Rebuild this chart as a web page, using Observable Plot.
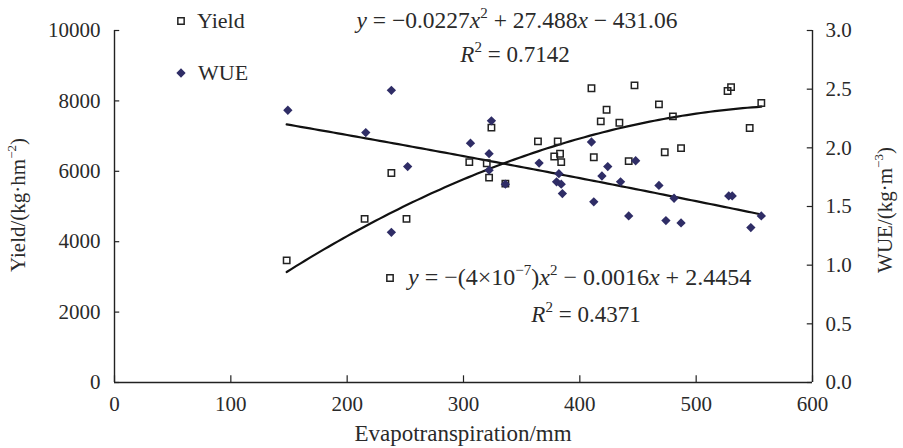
<!DOCTYPE html>
<html><head><meta charset="utf-8">
<script src="https://cdn.jsdelivr.net/npm/d3@7"></script>
<script src="https://cdn.jsdelivr.net/npm/@observablehq/plot@0.6"></script>
<style>body{margin:0;background:#fff} svg{display:block}</style>
</head><body><div id="chart"></div>
<script>
// ---- data ----
const yieldET  = [148, 215, 238, 251, 305, 320, 322, 324, 336, 364, 378, 381, 383, 384, 410, 412, 418, 423, 434, 442, 447, 468, 473, 480, 487, 527, 530, 546, 556];
const yieldVal = [3470, 4650, 5950, 4650, 6260, 6230, 5820, 7240, 5650, 6850, 6420, 6850, 6500, 6260, 8360, 6400, 7420, 7750, 7380, 6290, 8440, 7900, 6540, 7560, 6660, 8280, 8390, 7230, 7940];
const wueET  = [149, 216, 238, 238, 252, 306, 322, 322, 324, 336, 365, 380, 382, 384, 385, 410, 412, 419, 424, 435, 442, 448, 468, 474, 481, 487, 528, 531, 547, 556];
const wueVal = [2.32, 2.13, 2.49, 1.28, 1.84, 2.04, 1.95, 1.81, 2.23, 1.69, 1.87, 1.71, 1.78, 1.69, 1.61, 2.05, 1.54, 1.76, 1.84, 1.71, 1.42, 1.89, 1.68, 1.38, 1.57, 1.36, 1.59, 1.59, 1.32, 1.42];
const xTicks = [0, 100, 200, 300, 400, 500, 600];
const yieldTicks = [0, 2000, 4000, 6000, 8000, 10000];
const wueTicks = [0, 0.5, 1.0, 1.5, 2.0, 2.5, 3.0];
// fitted quadratic trend lines as printed on the chart: [a, b, c]
const yieldFit = [-0.0227, 27.488, -431.06];
const wueFit = [-4e-7, -0.0016, 2.4454];
const fitRange = [148, 556];

const K = 10000 / 3; // right axis (WUE 0–3) mapped onto left axis (Yield 0–10000)
const quad = (c, x) => c[0] * x * x + c[1] * x + c[2];
const fitX = d3.range(fitRange[0], fitRange[1] + 0.1, 4);
const yieldCurve = fitX.map(x => ({x, y: quad(yieldFit, x)}));
const wueCurve = fitX.map(x => ({x, y: quad(wueFit, x) * K}));
const yieldPts = yieldET.map((x, i) => ({x, y: yieldVal[i]}));
const wuePts = wueET.map((x, i) => ({x, y: wueVal[i] * K}));

const FONT = "Liberation Serif";
const FS = 21;
const axisColor = "#222";
const navy = "#2f2d66";

const chart = Plot.plot({
  width: 903, height: 448,
  marginLeft: 114, marginRight: 91, marginTop: 30, marginBottom: 66,
  style: {fontFamily: FONT, fontSize: FS + "px", color: "#2a2a2a", background: "#fff"},
  x: {domain: [0, 600]},
  y: {domain: [0, 10000]},
  marks: [
    Plot.ruleX([0, 600], {stroke: axisColor, strokeWidth: 1.4}),
    Plot.ruleY([0], {stroke: axisColor, strokeWidth: 1.4}),
    Plot.ruleX(xTicks, {x: d => d, y1: 0, y2: 190, stroke: axisColor, strokeWidth: 1.2}),
    Plot.ruleY(yieldTicks, {y: d => d, x1: 0, x2: 4.5, stroke: axisColor, strokeWidth: 1.2}),
    Plot.ruleY(wueTicks, {y: d => d * K, x1: 595.5, x2: 600, stroke: axisColor, strokeWidth: 1.2}),
    Plot.axisX(xTicks, {tickSize: 0, tickPadding: 14, label: null, fontSize: FS}),
    Plot.axisY(yieldTicks, {anchor: "left", tickSize: 0, tickPadding: 14, label: null, tickFormat: d3.format("d"), fontSize: FS}),
    Plot.axisY(wueTicks.map(d => d * K), {anchor: "right", tickSize: 0, tickPadding: 13, label: null, tickFormat: d => (d / K).toFixed(1), fontSize: FS}),
    Plot.line(yieldCurve, {x: "x", y: "y", stroke: "#111", strokeWidth: 2.2}),
    Plot.line(wueCurve, {x: "x", y: "y", stroke: "#111", strokeWidth: 2.2}),
    Plot.dot(yieldPts, {x: "x", y: "y", symbol: "square", r: 3.6, fill: "none", stroke: "#222", strokeWidth: 1.5}),
    Plot.dot(wuePts, {x: "x", y: "y", symbol: "diamond2", r: 4.2, fill: navy, stroke: "none"})
  ]
});
document.getElementById("chart").appendChild(chart);

// ---- annotations: titles, legend, equations ----
const svg = d3.select(chart);
const g = svg.append("g").attr("font-family", FONT).attr("font-size", 22).attr("fill", "#2a2a2a").attr("text-anchor", "start");

function rich(x, y, segs, anchor = "start", size = 22) {
  const t = g.append("text").attr("x", x).attr("y", y).attr("text-anchor", anchor).attr("font-size", size);
  let shift = 0;
  for (const s of segs) {
    const ts = t.append("tspan").text(s.t);
    if (s.i) ts.attr("font-style", "italic");
    const target = s.sup ? -Math.round(size * 0.42) : 0;
    if (target !== shift) { ts.attr("dy", target - shift); shift = target; }
    if (s.sup) ts.attr("font-size", Math.round(size * 0.64));
  }
  return t;
}
const sq = d3.symbol(d3.symbolSquare, 40)();
const dm = d3.symbol(d3.symbolDiamond2, 55)();

// legend
g.append("path").attr("d", sq).attr("transform", "translate(181,21)").attr("fill", "none").attr("stroke", "#222").attr("stroke-width", 1.5);
g.append("text").attr("x", 197).attr("y", 28).text("Yield");
g.append("path").attr("d", dm).attr("transform", "translate(181,73)").attr("fill", navy);
g.append("text").attr("x", 198).attr("y", 80).text("WUE");

// equation 1
rich(517, 28, [{t: "y", i: 1}, {t: " = −0.0227"}, {t: "x", i: 1}, {t: "2", sup: 1}, {t: " + 27.488"}, {t: "x", i: 1}, {t: " − 431.06"}], "middle", 23.5);
rich(515, 62, [{t: "R", i: 1}, {t: "2", sup: 1}, {t: " = 0.7142"}], "middle", 23);

// equation 2
g.append("path").attr("d", sq).attr("transform", "translate(390,278)").attr("fill", "none").attr("stroke", "#222").attr("stroke-width", 1.5);
rich(408, 285, [{t: "y", i: 1}, {t: " = −(4×10"}, {t: "−7", sup: 1}, {t: ")"}, {t: "x", i: 1}, {t: "2", sup: 1}, {t: " − 0.0016"}, {t: "x", i: 1}, {t: " + 2.4454"}], "start", 24);
rich(586, 322, [{t: "R", i: 1}, {t: "2", sup: 1}, {t: " = 0.4371"}], "middle", 23);

// axis titles
g.append("text").attr("x", 463).attr("y", 441).attr("text-anchor", "middle").attr("font-size", 23).text("Evapotranspiration/mm");
rich(0, 0, [{t: "Yield/(kg·hm"}, {t: "−2", sup: 1}, {t: ")"}], "middle", 21).attr("transform", "translate(25,205) rotate(-90)");
rich(0, 0, [{t: "WUE/(kg·m"}, {t: "−3", sup: 1}, {t: ")"}], "middle", 21).attr("transform", "translate(892,210) rotate(-90)");
</script>
</body></html>
